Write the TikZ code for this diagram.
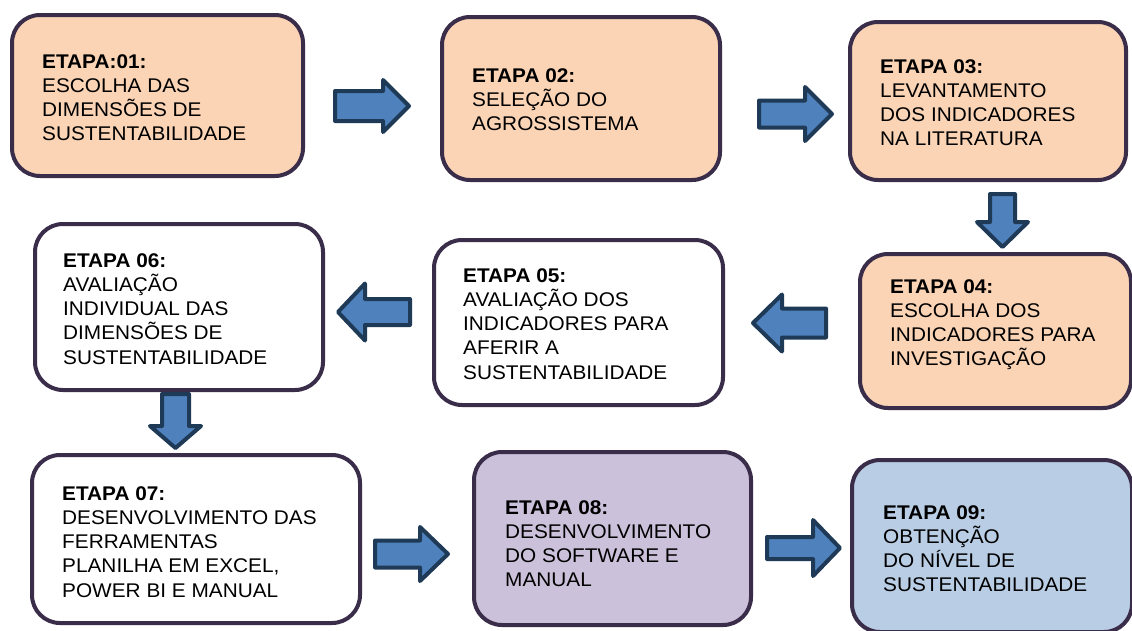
\documentclass[tikz,border=0pt]{standalone}
\usepackage{fontspec}
\setmainfont{Liberation Sans}[FakeStretch=1.05]
\definecolor{peach}{HTML}{FBD4B5}
\definecolor{lilac}{HTML}{CCC1DA}
\definecolor{lblue}{HTML}{B9CDE5}
\definecolor{bord}{HTML}{392D4A}
\definecolor{afill}{HTML}{4F81BD}
\definecolor{adraw}{HTML}{1F3A56}
\newcommand{\rarr}[6]{\draw[blockarr] (#1,{#4-#5}) -- (#2,{#4-#5}) -- (#2,{#4-#6}) -- (#3,#4) -- (#2,{#4+#6}) -- (#2,{#4+#5}) -- (#1,{#4+#5}) -- cycle;}
\newcommand{\darr}[6]{\draw[blockarr] ({#4-#5},#1) -- ({#4-#5},#2) -- ({#4-#6},#2) -- (#4,#3) -- ({#4+#6},#2) -- ({#4+#5},#2) -- ({#4+#5},#1) -- cycle;}
\begin{document}
\begin{tikzpicture}[x=1pt,y=-1pt,
  stepbox/.style={draw=bord, line width=4pt, rounded corners=28pt, inner sep=0pt},
  txt/.style={inner sep=0pt, anchor=base west, font=\fontsize{19.8}{24.3}\selectfont, text=black},
  blockarr/.style={fill=afill, draw=adraw, line width=4pt, line join=round}]
\useasboundingbox (0,0) rectangle (1132,630);
\fill[white] (0,0) rectangle (1132,630);
% boxes
\node[stepbox, fill=peach, minimum width=291pt, minimum height=161pt] (b1) at (157.5,95.5) {};
\node[stepbox, fill=peach, minimum width=278pt, minimum height=163pt] (b2) at (581,98.5) {};
\node[stepbox, fill=peach, minimum width=276pt, minimum height=158pt] (b3) at (988,101) {};
\node[stepbox, fill=peach, minimum width=271pt, minimum height=154pt] (b4) at (995.5,331) {};
\node[stepbox, fill=white, minimum width=289pt, minimum height=165pt] (b5) at (578.5,322.5) {};
\node[stepbox, fill=white, minimum width=288pt, minimum height=166pt] (b6) at (179,307) {};
\node[stepbox, fill=white, minimum width=328pt, minimum height=168pt] (b7) at (196,539) {};
\node[stepbox, fill=lilac, minimum width=277pt, minimum height=173pt] (b8) at (612.5,538.5) {};
\node[stepbox, fill=lblue, minimum width=280pt, minimum height=172pt] (b9) at (992,546) {};
% texts
\node[txt] (t1) at (42,68) {\parbox[t]{260pt}{\textbf{ETAPA:01:}\\ESCOLHA DAS\\DIMENSÕES DE\\SUSTENTABILIDADE}};
\node[txt] (t2) at (472,82) {\parbox[t]{240pt}{\textbf{ETAPA 02:}\\SELEÇÃO DO\\AGROSSISTEMA}};
\node[txt] (t3) at (880,73) {\parbox[t]{240pt}{\textbf{ETAPA 03:}\\LEVANTAMENTO\\DOS INDICADORES\\NA LITERATURA}};
\node[txt] (t4) at (890,293) {\parbox[t]{240pt}{\textbf{ETAPA 04:}\\ESCOLHA DOS\\INDICADORES PARA\\INVESTIGAÇÃO}};
\node[txt] (t5) at (463,282) {\parbox[t]{250pt}{\textbf{ETAPA 05:}\\AVALIAÇÃO DOS\\INDICADORES PARA\\AFERIR A\\SUSTENTABILIDADE}};
\node[txt] (t6) at (63,267) {\parbox[t]{250pt}{\textbf{ETAPA 06:}\\AVALIAÇÃO\\INDIVIDUAL DAS\\DIMENSÕES DE\\SUSTENTABILIDADE}};
\node[txt] (t7) at (62,500) {\parbox[t]{290pt}{\textbf{ETAPA 07:}\\DESENVOLVIMENTO DAS\\FERRAMENTAS\\PLANILHA EM EXCEL,\\POWER BI E MANUAL}};
\node[txt] (t8) at (505,514) {\parbox[t]{240pt}{\textbf{ETAPA 08:}\\DESENVOLVIMENTO\\DO SOFTWARE E\\MANUAL}};
\node[txt] (t9) at (883,519) {\parbox[t]{240pt}{\textbf{ETAPA 09:}\\OBTENÇÃO\\DO NÍVEL DE\\SUSTENTABILIDADE}};
% block arrows
\rarr{335}{383}{409}{106}{15}{26}
\rarr{759}{805}{832}{114}{13.5}{27}
\darr{194}{222}{247}{1002.5}{12.5}{25.5}
\rarr{826}{782}{753}{323}{14.5}{28.5}
\rarr{410}{365}{338}{312}{13}{28.5}
\darr{394}{426}{448}{175.5}{13.5}{25.5}
\rarr{375}{420}{448}{554}{13.5}{27}
\rarr{767}{813}{840}{548}{11}{28}
\end{tikzpicture}
\end{document}
